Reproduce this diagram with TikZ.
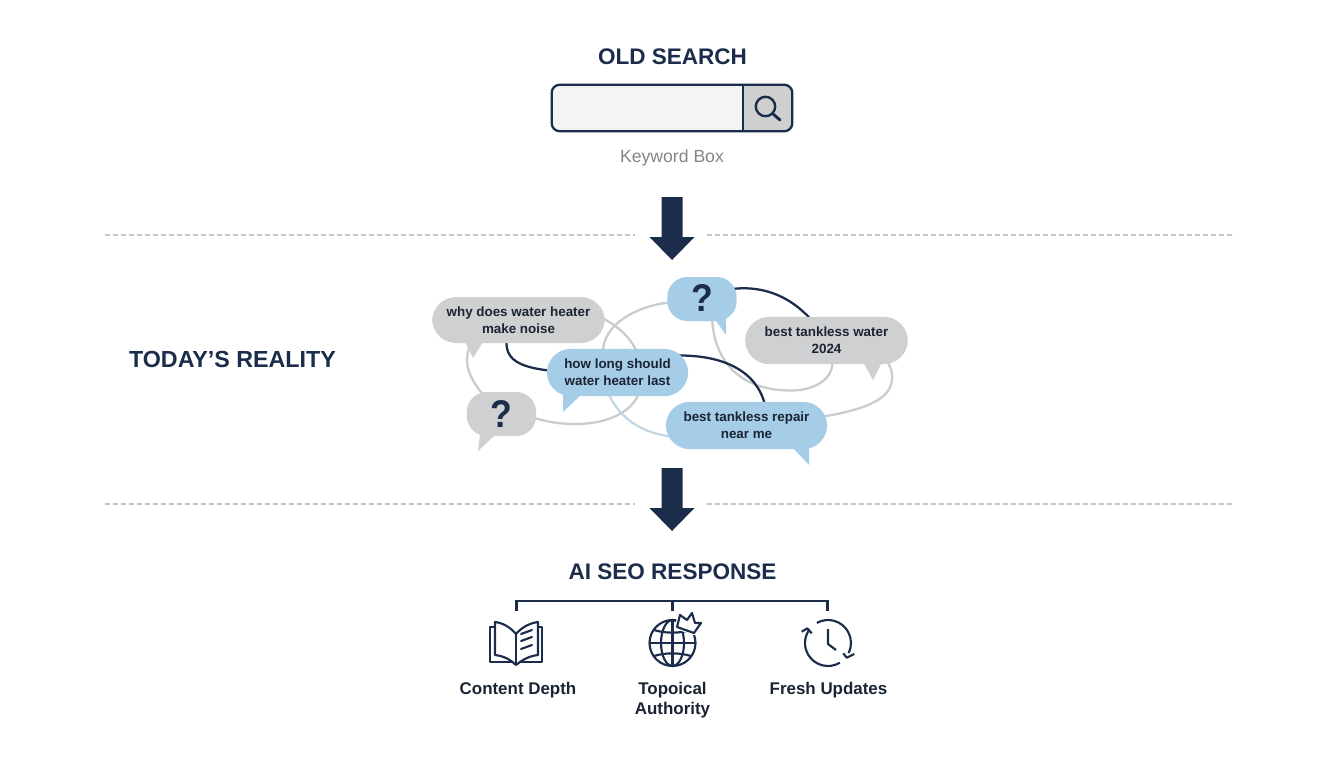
\documentclass[tikz,border=0pt]{standalone}
\usepackage{fontspec}
\setmainfont{Liberation Sans}
\definecolor{navy}{HTML}{1B2D4A}
\definecolor{ink}{HTML}{1A2433}
\definecolor{bgray}{HTML}{CFD0D2}
\definecolor{bblue}{HTML}{A6CDE8}
\definecolor{loopgray}{HTML}{C9CBCC}
\definecolor{loopblue}{HTML}{C3D8E4}
\definecolor{dashgray}{HTML}{C6C6C6}
\tikzset{
  heading/.style={text=navy,font=\bfseries\fontsize{16.9}{20}\selectfont,inner sep=0pt},
  bubble/.style={rounded corners=18pt,inner sep=0pt,align=center,text=ink,font=\bfseries\fontsize{10.05}{13}\selectfont,minimum height=34.5pt},
  graybubble/.style={bubble,fill=bgray},
  bluebubble/.style={bubble,fill=bblue},
  qmark/.style={font=\bfseries\fontsize{29}{30}\selectfont,text=navy,inner sep=0pt},
  iconlabel/.style={inner sep=0pt,align=center,text=ink,font=\bfseries\fontsize{12.7}{15}\selectfont},
  loopline/.style={draw=loopgray,line width=1.7pt},
  darkline/.style={draw=navy,line width=1.7pt},
  divider/.style={draw=dashgray,line width=0.9pt,dash pattern=on 3.6pt off 2.4pt},
  blockarrow/.style={fill=navy},
  icon/.style={draw=navy,line width=1.6pt,line join=round},
}
\begin{document}
\begin{tikzpicture}[x=0.75pt,y=-0.75pt]
\useasboundingbox (0,0) rectangle (1344,768);
\fill[white] (0,0) rectangle (1344,768);

% headings
\node[heading] (oldh) at (672.5,56.5) {OLD SEARCH};
\node[heading,font=\bfseries\fontsize{17.45}{20}\selectfont] (today) at (232.5,359) {TODAY’S REALITY};
\node[heading] (aih) at (672.5,572) {AI SEO RESPONSE};

% search box
\node[minimum width=180pt,minimum height=34.5pt,inner sep=0pt] (box) at (672,108) {};
\begin{scope}
\clip[rounded corners=6pt] (box.north west) rectangle (box.south east);
\fill[black!4.5] (box.north west) rectangle (743,131);
\fill[black!19] (743,85) rectangle (box.south east);
\end{scope}
\draw[navy,line width=1.7pt,rounded corners=6pt] (box.north west) rectangle (box.south east);
\draw[navy,line width=1.5pt] (743,85) -- (743,131);
\draw[navy,line width=1.8pt] (765.5,106.5) circle (9.7);
\draw[navy,line width=2.2pt,line cap=round] (772.5,113.5) -- (780,120);
\node[inner sep=0pt,text=black!48,font=\fontsize{13.2}{16}\selectfont] (kw) at (672,158) {Keyword Box};

% dividers
\coordinate (d1a) at (105,235); \coordinate (d1b) at (635,235);
\coordinate (d1c) at (707,235); \coordinate (d1d) at (1235,235);
\coordinate (d2a) at (105,504); \coordinate (d2b) at (635,504);
\coordinate (d2c) at (707,504); \coordinate (d2d) at (1235,504);
\draw[divider] (d1a) -- (d1b); \draw[divider] (d1c) -- (d1d);
\draw[divider] (d2a) -- (d2b); \draw[divider] (d2c) -- (d2d);

% block arrows
\fill[blockarrow] (661.5,197) -- (682.5,197) -- (682.5,237) -- (694.5,237) -- (672,260) -- (649.5,237) -- (661.5,237) -- cycle;
\fill[blockarrow] (661.5,468) -- (682.5,468) -- (682.5,508) -- (694.5,508) -- (672,531) -- (649.5,508) -- (661.5,508) -- cycle;

% bubble positions (nodes drawn after connectors)
\coordinate (cWhy) at (518.5,320);
\coordinate (cQg) at (501.5,414);
\coordinate (cHow) at (617.5,372.5);
\coordinate (cQb) at (702,299);
\coordinate (cTank) at (826.5,340.5);
\coordinate (cRep) at (746.5,425.5);

% connectors under bubbles
\draw[loopline] (cQg) ++(30,3) .. controls (575,432) and (641,425) .. (642,378) .. controls (643,350) and (625,328) .. (598,316);
\draw[loopline] (cWhy) ++(-48,24) .. controls (462,365) and (468,382) .. (cQg);
\draw[loopline] (cQb) ++(-30,3) .. controls (635,306) and (603,325) .. (603,352) .. controls (603,370) and (606,390) .. (610,397);
\draw[draw=loopblue,line width=1.7pt] (610,397) .. controls (622,420) and (645,436) .. (680,437);
\draw[darkline] (cWhy) ++(-12,20) .. controls (505,365) and (525,374) .. (cHow);
\draw[darkline] (cQb) ++(30,-10) .. controls (765,285) and (800,297) .. (cTank);
\draw[loopline] (cQb) ++(10,15) .. controls (712,350) and (730,390) .. (790,390.5) .. controls (815,391) and (835,378) .. (832,360);
\draw[loopline] (cTank) ++(60,20) .. controls (893,370) and (893,378) .. (891,385) .. controls (884,405) and (850,417) .. (cRep);
\draw[darkline] (cHow) ++(60,-17) .. controls (725,355) and (757,372) .. (765,405);

% bubbles
\node[graybubble,minimum width=129.5pt] (why) at (cWhy) {why does water heater\\make noise};
\fill[bgray] (465,342) -- (473,358) -- (483,342) -- cycle;
\node[graybubble,minimum width=52pt,minimum height=33pt,rounded corners=15pt] (qg) at (cQg) {};
\node[qmark] (qgt) at (501.5,413.5) {\scalebox{.92}[1]{?}};
\fill[bgray] (480,434) -- (478,451) -- (496,434) -- cycle;
\node[bluebubble,minimum width=106pt,minimum height=35.5pt] (how) at (cHow) {how long should\\water heater last};
\fill[bblue] (563,394) -- (563,412) -- (581,395) -- cycle;
\node[bluebubble,minimum width=52pt,minimum height=33pt,rounded corners=15pt] (qb) at (cQb) {};
\node[qmark] (qbt) at (702,298) {\scalebox{.92}[1]{?}};
\fill[bblue] (714,318) -- (726,335) -- (726,316) -- cycle;
\node[graybubble,minimum width=122pt,minimum height=35.5pt] (tank) at (cTank) {best tankless water\\2024};
\fill[bgray] (863,362) -- (873,380) -- (882,362) -- cycle;
\node[bluebubble,minimum width=121pt,minimum height=35.5pt] (rep) at (cRep) {best tankless repair\\near me};
\fill[bblue] (792,447) -- (809,465) -- (809,445) -- cycle;

% bracket
\coordinate (brL) at (516.5,611); \coordinate (brM) at (672.5,611); \coordinate (brR) at (827.5,611);
\coordinate (brT) at (672.5,601);
\draw[navy,line width=1.6pt,line join=miter] (brL) |- (brT) -| (brR);
\draw[navy,line width=1.6pt] (brT) -- (brM);

% book icon
\draw[icon] (512,662) -- (490,662) -- (490,627) -- (495,627);
\draw[icon] (520,662) -- (542,662) -- (542,627) -- (538,627);
\draw[icon] (516,634) .. controls (510,627) and (503,623) .. (495,622) -- (495,655) .. controls (504,656) and (511,660) .. (516,665);
\draw[icon] (516,634) .. controls (522,627) and (530,623) .. (538,622) -- (538,655) .. controls (529,656) and (522,660) .. (516,665);
\draw[icon] (516,634) -- (516,665);
\draw[icon,line cap=round] (521,634) -- (532,630);
\draw[icon,line cap=round] (521,641) -- (532,637);
\draw[icon,line cap=round] (521,649) -- (532,645);

% globe icon
\coordinate (gc) at (672.5,643);
\draw[icon] (gc) circle (23);
\draw[icon] (gc) ellipse (11.5 and 23);
\draw[icon] (672.5,620) -- (672.5,666);
\draw[icon] (649.5,643) -- (695.5,643);
\draw[icon] (654,630) .. controls (665,633.5) and (680,633.5) .. (691,630);
\draw[icon] (654,656) .. controls (665,652.5) and (680,652.5) .. (691,656);
\path[fill=white,draw=white,line width=3.4pt,line join=round] (677,627) -- (680,615) -- (687,620) -- (692,613) -- (695,623) -- (701,623) -- (694,633) -- cycle;
\draw[icon,fill=white] (677,627) -- (680,615) -- (687,620) -- (692,613) -- (695,623) -- (701,623) -- (694,633) -- cycle;

% clock icon
\coordinate (cc) at (828,643);
\draw[icon] (cc) ++(-119:23) arc[start angle=-119,end angle=26,radius=23];
\draw[icon] (cc) ++(59:23) arc[start angle=59,end angle=213,radius=23];
\draw[icon] (828,629) -- (828,644) -- (836,650);
\draw[icon] (801.7,631.7) -- (807.3,628.3) -- (811.7,633.3);
\draw[icon] (843.3,653.3) -- (846.7,657.7) -- (854.3,654);

% icon labels
\node[iconlabel] (l1) at (518,690.5) {Content Depth};
\node[iconlabel] (l2) at (672.5,700.5) {Topoical\\Authority};
\node[iconlabel] (l3) at (828.5,690.5) {Fresh Updates};
\end{tikzpicture}
\end{document}
